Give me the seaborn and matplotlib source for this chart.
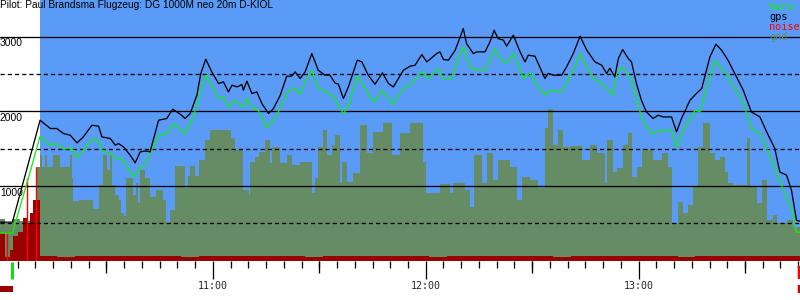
import matplotlib
matplotlib.use("Agg")
import matplotlib.pyplot as plt
import seaborn as sns
import pandas as pd
from matplotlib.transforms import blended_transform_factory

# ---------------- data (time in minutes after 10:00, altitude in m) ----------------
title = "Pilot: Paul Brandsma Flugzeug: DG 1000M neo 20m D-KIOL"

gps_t = [0.1, 3.5, 11.3, 14.2, 16.0, 17.9, 19.8, 21.7, 23.5, 25.9,
         27.8, 28.7, 31.1, 32.5, 33.4, 34.8, 36.7, 38.1, 39.5, 41.2,
         42.3, 44.7, 47.0, 48.7, 50.8, 52.2, 53.6, 55.5, 56.6, 58.0,
         59.7, 61.6, 63.0, 64.4, 65.4, 66.8, 68.2, 68.6, 69.6, 71.0,
         72.4, 73.8, 75.7, 77.1, 79.0, 80.8, 82.2, 83.2, 84.6, 86.0,
         87.9, 89.7, 91.6, 93.0, 94.4, 95.4, 96.8, 98.2, 100.7, 102.0,
         103.8, 105.7, 107.8, 109.5, 110.9, 113.7, 115.6, 117.0, 118.9, 120.3,
         123.1, 124.0, 125.0, 126.4, 128.3, 130.6, 131.5, 133.4, 134.4, 136.7,
         138.1, 139.3, 140.4, 141.9, 142.8, 144.7, 146.6, 148.0, 148.9, 150.8,
         151.7, 153.6, 154.5, 156.0, 158.3, 159.7, 161.6, 163.5, 165.4, 167.7,
         169.6, 171.0, 171.9, 173.3, 174.3, 175.5, 177.1, 178.0, 179.4, 180.8,
         182.2, 184.1, 185.5, 186.9, 189.3, 190.7, 192.1, 194.5, 196.3, 197.8,
         200.1, 201.8, 203.4, 205.2, 207.1, 209.5, 211.8, 214.2, 216.1, 218.4,
         219.8, 221.7, 223.1, 224.5, 225.4]
gps_alt = [516, 516, 1881, 1770, 1770, 1703, 1680, 1577, 1658, 1814,
           1801, 1658, 1636, 1547, 1569, 1524, 1413, 1310, 1457, 1470,
           1457, 1881, 1904, 2029, 1962, 1904, 1971, 2216, 2507, 2698,
           2528, 2373, 2394, 2260, 2350, 2327, 2359, 2283, 2404, 2239,
           2260, 2105, 1971, 2038, 2216, 2470, 2470, 2528, 2440, 2528,
           2774, 2551, 2484, 2484, 2381, 2363, 2172, 2327, 2685, 2662,
           2484, 2363, 2515, 2373, 2327, 2551, 2604, 2618, 2761, 2662,
           2774, 2796, 2694, 2685, 2819, 3109, 2908, 2774, 2796, 2796,
           2930, 3086, 2975, 2953, 2873, 3020, 2796, 2662, 2752, 2738,
           2641, 2440, 2507, 2484, 2484, 2595, 2774, 3006, 2819, 2662,
           2618, 2507, 2578, 2461, 2707, 2828, 2707, 2662, 2373, 2149,
           1992, 1904, 1948, 1925, 1925, 1725, 1904, 2149, 2239, 2306,
           2729, 2899, 2819, 2685, 2507, 2283, 1992, 1925, 1725, 1502,
           1189, 1145, 944, 542, 529]

baro_t = [0.1, 3.5, 8.5, 11.3, 14.2, 16.0, 17.9, 20.3, 21.7, 23.5,
          25.9, 27.8, 28.7, 31.1, 33.0, 34.8, 36.7, 37.8, 39.5, 40.9,
          42.3, 44.7, 47.0, 48.7, 50.8, 52.2, 54.5, 56.4, 58.0, 59.7,
          61.6, 63.0, 64.4, 66.3, 68.6, 69.6, 71.4, 72.8, 75.2, 77.1,
          79.0, 80.8, 83.2, 84.6, 86.5, 87.9, 89.7, 92.1, 94.4, 96.8,
          98.2, 100.7, 102.4, 104.3, 105.7, 107.8, 110.7, 113.7, 116.1, 118.9,
          120.7, 123.5, 125.0, 127.3, 128.7, 130.6, 132.5, 134.4, 136.7, 139.5,
          140.9, 142.8, 144.7, 147.5, 149.4, 151.7, 153.6, 155.0, 158.3, 161.6,
          163.5, 165.4, 167.2, 169.1, 171.4, 172.8, 173.8, 175.5, 177.5, 179.0,
          180.8, 182.2, 184.1, 186.5, 189.3, 190.7, 192.6, 195.9, 197.3, 199.2,
          201.5, 204.3, 206.2, 207.6, 210.0, 211.8, 214.2, 216.1, 218.9, 221.2,
          223.1, 224.5, 225.4]
baro_alt = [368, 368, 1189, 1667, 1547, 1569, 1502, 1502, 1382, 1480,
            1623, 1613, 1480, 1435, 1368, 1346, 1189, 1122, 1256, 1279,
            1435, 1680, 1703, 1828, 1770, 1703, 1925, 2260, 2484, 2350,
            2172, 2193, 2051, 2149, 2051, 2172, 2038, 2015, 1784, 1881,
            2038, 2260, 2306, 2229, 2440, 2551, 2306, 2260, 2172, 1962,
            2082, 2470, 2350, 2193, 2126, 2283, 2096, 2306, 2373, 2528,
            2440, 2574, 2440, 2440, 2662, 2863, 2595, 2551, 2551, 2841,
            2707, 2641, 2774, 2440, 2515, 2327, 2216, 2283, 2260, 2551,
            2774, 2595, 2440, 2394, 2283, 2216, 2507, 2595, 2461, 2239,
            1925, 1792, 1703, 1747, 1747, 1516, 1747, 2015, 1992, 2327,
            2675, 2528, 2373, 2283, 2038, 1770, 1703, 1502, 1168, 900,
            699, 386, 378]

gnd_t = [0.0, 1.5, 3.5, 5.7, 8.5, 10.2, 11.3, 11.9, 12.8, 13.3,
         15.0, 17.0, 19.8, 20.4, 20.6, 22.3, 26.3, 28.0, 29.1, 30.2,
         31.1, 31.6, 32.5, 33.6, 34.2, 35.0, 35.6, 37.5, 38.4, 38.9,
         39.5, 40.9, 42.3, 44.0, 46.0, 46.8, 48.0, 49.4, 52.2, 53.0,
         53.6, 55.0, 56.1, 57.8, 59.2, 65.2, 66.3, 68.5, 70.2, 70.5,
         71.9, 73.0, 74.7, 76.1, 76.7, 79.0, 80.9, 82.3, 84.6, 88.0,
         88.8, 89.7, 91.1, 92.2, 93.6, 94.4, 95.9, 96.4, 97.8, 99.5,
         101.5, 103.5, 105.2, 108.0, 110.5, 112.8, 115.6, 119.2, 120.1, 124.0,
         126.8, 127.7, 131.1, 132.5, 133.6, 135.9, 137.3, 139.0, 140.4, 143.7,
         145.7, 147.1, 149.4, 151.6, 153.6, 154.5, 155.9, 157.3, 158.7, 160.6,
         164.0, 166.3, 168.3, 170.5, 171.1, 172.8, 173.9, 175.6, 177.0, 178.1,
         179.5, 180.9, 184.0, 186.6, 188.3, 189.4, 191.1, 192.5, 193.9, 195.3,
         196.7, 198.1, 200.1, 201.5, 202.9, 204.3, 205.2, 206.6, 208.5, 210.5,
         211.4, 213.3, 214.7, 216.1, 217.8, 219.0, 221.8, 223.5]
gnd_alt = [556, 502, 556, 529, 582, 1252, 1413, 1252, 1413, 1252,
           1413, 1252, 1413, 1105, 797, 810, 690, 1011, 1413, 1212,
           1413, 1011, 877, 810, 636, 596, 1105, 877, 1038, 770,
           1212, 1105, 850, 944, 810, 516, 676, 1265, 971, 1131,
           1265, 1131, 1346, 1614, 1747, 1640, 1480, 944, 877, 1319,
           1386, 1453, 1614, 1306, 1520, 1306, 1413, 1279, 1319, 904,
           1105, 1520, 1747, 1413, 1547, 1681, 1038, 1319, 1051, 1172,
           1814, 1440, 1721, 1841, 1413, 1707, 1841, 1319, 904, 1024,
           904, 1038, 944, 716, 1413, 1038, 1440, 1078, 1346, 1252,
           810, 1118, 1078, 971, 1774, 2029, 1547, 1747, 1520, 1533,
           1346, 1547, 1440, 1038, 1614, 1185, 1239, 1547, 1707, 1118,
           1252, 1480, 1346, 1440, 1252, 502, 783, 636, 743, 984,
           1520, 1841, 1440, 1346, 1386, 1185, 1038, 1011, 1011, 1640,
           984, 770, 1078, 542, 609, 502, 542, 449]

noise_t = [0.0, 1.4, 2.8, 3.7, 5.1, 6.5, 7.6, 8.5, 9.3, 10.2,
           11.3, 16, 21, 26, 31, 36, 41, 46, 51, 56,
           61, 66, 71, 76, 81, 86, 91, 96, 101, 106,
           111, 116, 121, 126, 131, 136, 141, 146, 151, 156,
           161, 166, 171, 176, 181, 186, 191, 196, 201, 206,
           211, 216, 221]
noise_val = [370, 50, 143, 330, 384, 571, 504, 638, 812, 812,
             60, 55, 58, 62, 56, 60, 57, 59, 55, 61,
             58, 56, 60, 57, 62, 55, 58, 60, 56, 59,
             57, 61, 55, 58, 60, 56, 59, 57, 62, 55,
             58, 60, 56, 59, 57, 61, 55, 58, 60, 56,
             59, 57, 60]
spike_t = [1.9, 7.5, 10.1]
spike_val = [384, 1105, 1253]

flight_start = 11.3
t_end = 225.5
launch_t = 3.4
landing_t = 225.2
hour_ticks = [60, 120, 180]
hour_labels = ["11:00", "12:00", "13:00"]
half_ticks = [30, 90, 150, 210]
minor_ticks = list(range(5, 226, 5))
solid_levels = [1000, 2000, 3000]
dashed_levels = [500, 1500, 2500]
legend_names = ["baro", "gps", "noise", "gnd"]

# ---------------- style ----------------
BLUE = "#5a9bf8"
GND = "#658c65"
NOISE = "#9b0000"
SPIKE = "#ff0000"
BARO = "#11ee11"
legend_colors = ["#11ee11", "black", "#ff0000", GND]
PX = 0.72  # one pixel in points at dpi 100

sns.set_style("white")
plt.rcParams["font.family"] = ["Liberation Sans", "DejaVu Sans"]
plt.rcParams["lines.scale_dashes"] = False

W, H = 800, 300
AX_H = 260.67
fig = plt.figure(figsize=(W / 100, H / 100), dpi=100, facecolor="white")
ax = fig.add_axes([0, (H - AX_H) / H, 1, AX_H / H])
ax.set_facecolor("white")
ax.set_xlim(0, t_end)
ax.set_ylim(0, 3491)
for s in ax.spines.values():
    s.set_visible(False)

ax.axvspan(flight_start, t_end, color=BLUE, lw=0, zorder=0)

# ground
gx = gnd_t + [t_end]
gy = gnd_alt + [gnd_alt[-1]]
ax.fill_between(gx, gy, 0, step="post", color=GND, lw=0, zorder=1)

# noise
nx = noise_t + [t_end]
ny = noise_val + [noise_val[-1]]
ax.fill_between(nx, ny, 0, step="post", color=NOISE, lw=0, zorder=2)
ax.vlines(spike_t, 0, spike_val, colors=SPIKE, lw=1.4 * PX, zorder=2.5)

# grid lines
for v in solid_levels:
    ax.axhline(v, color="black", lw=1.3 * PX, zorder=3)
for v in dashed_levels:
    ax.axhline(v, color="black", lw=1.3 * PX, zorder=3, linestyle=(0, (3.0, 2.2)))

bt = blended_transform_factory(ax.transAxes, ax.transData)
for v in solid_levels:
    ax.annotate(str(v), xy=(0, v), xycoords=bt, xytext=(0, -1.2),
                textcoords="offset points", ha="left", va="top",
                fontsize=7.4, color="black", zorder=3.5)

# lines
df_baro = pd.DataFrame({"t": baro_t, "alt": baro_alt})
df_gps = pd.DataFrame({"t": gps_t, "alt": gps_alt})
sns.lineplot(data=df_baro, x="t", y="alt", color=BARO, lw=1.3 * PX,
             estimator=None, sort=False, ax=ax, zorder=4)
sns.lineplot(data=df_gps, x="t", y="alt", color="black", lw=1.3 * PX,
             estimator=None, sort=False, ax=ax, zorder=5)
ax.set_xlabel("")
ax.set_ylabel("")
ax.set_yticks([])

# x ticks
ax.set_xticks(hour_ticks, hour_labels)
ax.set_xticks(minor_ticks, minor=True)
ax.tick_params(axis="x", which="both", bottom=True, top=False)
ax.tick_params(axis="x", which="major", direction="out", length=18 * PX,
               width=1.3 * PX, color="black", pad=2,
               labelsize=7.2, labelfontfamily="DejaVu Sans Mono")
ax.tick_params(axis="x", which="minor", direction="out", length=6.5 * PX,
               width=1.3 * PX, color="black")
sec = ax.secondary_xaxis("bottom")
sec.set_xticks(half_ticks, ["" for _ in half_ticks])
sec.tick_params(axis="x", which="major", bottom=True, direction="out",
                length=12 * PX, width=1.3 * PX, color="black")
for s in sec.spines.values():
    s.set_visible(False)

# markers below the axis
bx = blended_transform_factory(ax.transData, ax.transAxes)
ax.plot([launch_t, launch_t], [-1.5 / AX_H, -18.5 / AX_H], color="#11dd11",
        lw=3 * PX, transform=bx, clip_on=False, solid_capstyle="butt")
ax.plot([0, launch_t + 0.3], [-28.5 / AX_H, -28.5 / AX_H], color=NOISE,
        lw=6 * PX, transform=bx, clip_on=False, solid_capstyle="butt")
ax.plot([landing_t, landing_t], [-5 / AX_H, -18.5 / AX_H], color=SPIKE,
        lw=2.5 * PX, transform=bx, clip_on=False, solid_capstyle="butt")
ax.plot([landing_t, landing_t], [-24.5 / AX_H, -32 / AX_H], color="#cc0000",
        lw=2.5 * PX, transform=bx, clip_on=False, solid_capstyle="butt")

# title and legend
fig.text(0.0, 1 - 0.5 / H, title, ha="left", va="top", fontsize=7.3, color="black")
for i, (name, col) in enumerate(zip(legend_names, legend_colors)):
    fig.text(769 / W, 1 - (10 + 10 * i) / H, name, ha="left", va="baseline",
             fontsize=7.4, color=col, family="DejaVu Sans Mono")

fig.savefig("out.png", dpi=100, facecolor="white")
